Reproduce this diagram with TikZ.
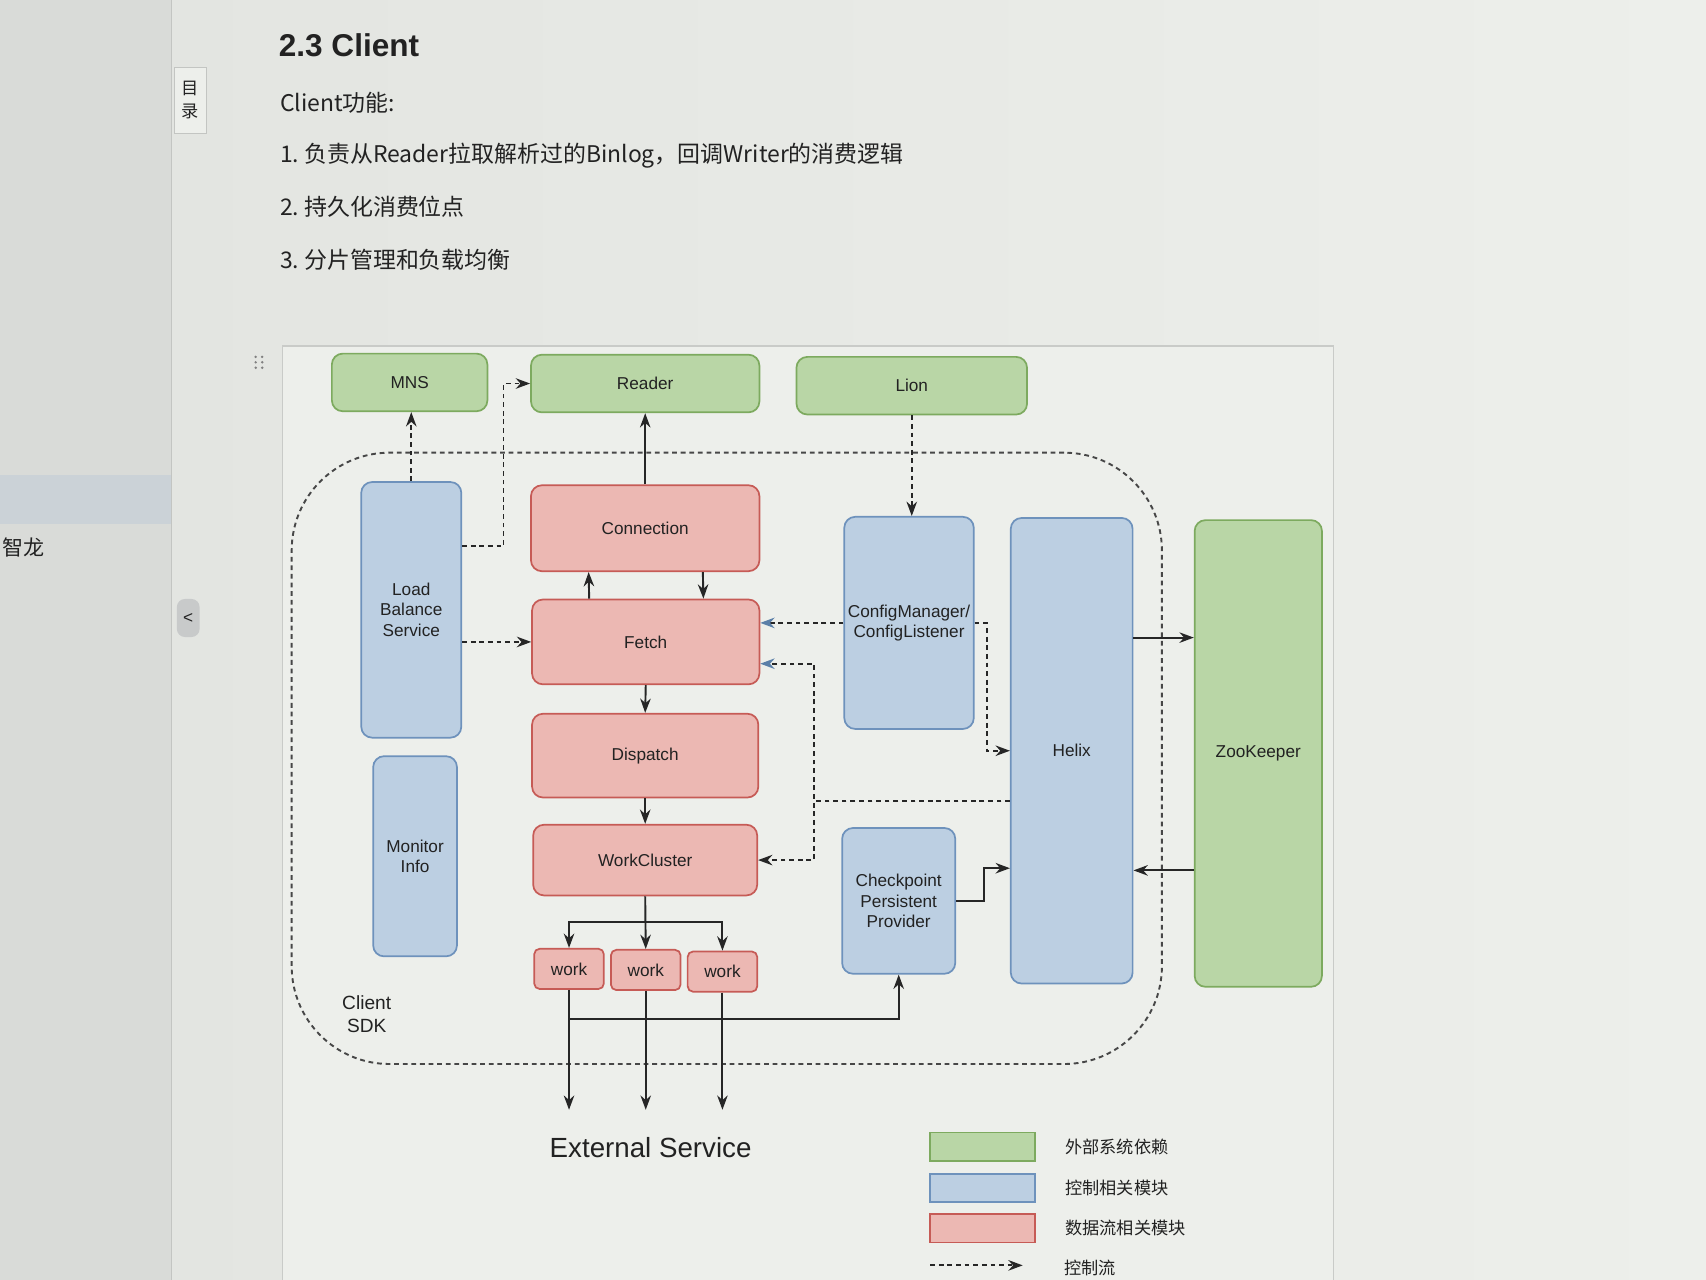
\documentclass[tikz,border=0pt]{standalone}
\usepackage{fontspec}
\setmainfont{Liberation Sans}
\newfontfamily\cjk{Noto Sans CJK SC}
\usetikzlibrary{arrows.meta, positioning, calc}

\definecolor{page}{HTML}{E2E4E0}
\definecolor{pagelight}{HTML}{EDEFEB}
\definecolor{sidebar}{HTML}{D9DBD8}
\definecolor{rowhl}{HTML}{CBD2D7}
\definecolor{sideline}{HTML}{C3C5C2}
\definecolor{tabgray}{HTML}{C8CACA}
\definecolor{framefill}{HTML}{EDEFEB}
\definecolor{framedraw}{HTML}{C9CBC8}
\definecolor{extfill}{HTML}{B9D6A6}
\definecolor{extdraw}{HTML}{7DAA5F}
\definecolor{ctlfill}{HTML}{BCCFE2}
\definecolor{ctldraw}{HTML}{6E92BC}
\definecolor{datfill}{HTML}{ECB8B3}
\definecolor{datdraw}{HTML}{C65B56}
\definecolor{wire}{HTML}{262626}
\definecolor{txt}{HTML}{222222}
\definecolor{ctlhead}{HTML}{5B7FA8}

\begin{document}
\begin{tikzpicture}[x=0.02cm, y=-0.02cm, >={Stealth[length=7.5pt, width=5.5pt]}, font=\fontsize{9}{10.8}\selectfont,
    box/.style={draw, rounded corners=0.2cm, align=center, text=txt, line width=0.9pt, inner sep=1pt},
    extbox/.style={box, fill=extfill, draw=extdraw},
    ctlbox/.style={box, fill=ctlfill, draw=ctldraw},
    databox/.style={box, fill=datfill, draw=datdraw},
    workbox/.style={databox, rounded corners=0.1cm, minimum width=1.28cm, minimum height=0.74cm},
    flow/.style={draw=wire, line width=1pt},
    ctrl/.style={flow, dash pattern=on 2.5pt off 2pt},
    bluetip/.style={-{Stealth[length=7.5pt, width=5.5pt, color=ctlhead]}},
    doc/.style={anchor=west, inner sep=0pt, text=txt, font=\cjk\fontsize{12}{14}\selectfont},
    legbox/.style={minimum width=1.92cm, minimum height=0.52cm, line width=0.9pt},
    legtext/.style={anchor=west, inner sep=0pt, text=txt, font=\cjk\fontsize{9}{11}\selectfont}]

    % page
    \useasboundingbox (0,0) rectangle (1568,1176);
    \clip (0,0) rectangle (1568,1176);
    \shade[left color=page, right color=pagelight] (0,0) rectangle (1568,1176);
    \fill[sidebar] (0,0) rectangle (158,1176);
    \fill[rowhl] (0,437) rectangle (158,482);
    \draw[sideline, line width=0.6pt] (158,0) -- (158,1176);
    \node[anchor=west, inner sep=0pt, text=txt, font=\cjk\fontsize{11}{13}\selectfont] (user) at (2,503) {智龙};
    \node[draw=sideline, fill=pagelight, text=txt, align=center, minimum width=0.58cm, minimum height=1.22cm,
          font=\cjk\fontsize{9}{12}\selectfont] (toc) at (175,92) {目\\录};
    \node[fill=tabgray, rounded corners=0.15cm, minimum width=0.36cm, minimum height=0.7cm, text=txt,
          font=\fontsize{9}{10}\selectfont] (fold) at (173,568) {<};
    \foreach \dx in {0,6}
        \foreach \dy in {0,5,10}
            \fill[gray] (235+\dx,328+\dy) circle (0.025cm);

    % text
    \node[anchor=west, inner sep=0pt, text=txt, font=\bfseries\fontsize{16.5}{20}\selectfont] (title) at (256,42) {2.3 Client};
    \node[doc] (intro) at (257,94) {Client功能:};
    \node[doc] (item1) at (257,143) {1.\ 负责从Reader拉取解析过的Binlog，回调Writer的消费逻辑};
    \node[doc] (item2) at (257,190) {2.\ 持久化消费位点};
    \node[doc] (item3) at (257,239) {3.\ 分片管理和负载均衡};

    % diagram
    \draw[fill=framefill, draw=framedraw, line width=0.6pt] (260,318) rectangle (1226,1200);
    \node[ctrl, draw=wire!85, rounded corners=1.8cm, minimum width=16cm, minimum height=11.24cm] (sdk) at (668,697) {};
    \node[align=center, text=txt, font=\fontsize{10}{12}\selectfont] (sdk-label) at (337,932) {Client\\SDK};

    \node[extbox, minimum width=2.86cm, minimum height=1.06cm] (mns) at (376.5,351.5) {MNS};
    \node[extbox, minimum width=4.2cm, minimum height=1.06cm] (reader) at (593,352.5) {Reader};
    \node[extbox, minimum width=4.24cm, minimum height=1.06cm] (lion) at (838,354.5) {Lion};

    \node[ctlbox, minimum width=1.84cm, minimum height=4.7cm] (lbs) at (378,560.5) {Load\\Balance\\Service};
    \node[ctlbox, minimum width=1.54cm, minimum height=3.68cm] (monitor) at (381.5,787) {Monitor\\Info};

    \node[databox, minimum width=4.2cm, minimum height=1.58cm] (conn) at (593,485.5) {Connection};
    \node[databox, minimum width=4.18cm, minimum height=1.56cm] (fetch) at (593.5,590) {Fetch};
    \node[databox, minimum width=4.16cm, minimum height=1.54cm] (dispatch) at (593,694.5) {Dispatch};
    \node[databox, minimum width=4.12cm, minimum height=1.3cm] (wc) at (593,790.5) {WorkCluster};
    \node[workbox] (work1) at (523,890.5) {work};
    \node[workbox] (work2) at (593.5,891.5) {work};
    \node[workbox] (work3) at (664,893) {work};

    \node[ctlbox, minimum width=2.38cm, minimum height=3.9cm] (cfg) at (835.5,572.5) {ConfigManager/\\ConfigListener};
    \node[ctlbox, minimum width=2.08cm, minimum height=2.68cm] (ckpt) at (826,828) {Checkpoint\\Persistent\\Provider};
    \node[ctlbox, minimum width=2.24cm, minimum height=8.56cm] (helix) at (985,690) {Helix};
    \node[extbox, minimum width=2.34cm, minimum height=8.58cm] (zk) at (1156.5,692.5) {ZooKeeper};

    \node[text=txt, font=\fontsize{14.5}{17}\selectfont] (ext) at (598,1055) {External Service};
    \coordinate (ext-top) at (593,1020);

    % control flow
    \draw[ctrl, ->] (lbs.north) -- (lbs.north |- mns.south);
    \draw[ctrl, ->] ([yshift=1.17cm]lbs.east) -- ++(38,0) |- (reader.west);
    \draw[ctrl, ->] (fetch.west -| lbs.east) -- (fetch.west);
    \draw[ctrl, ->] (lion.south) -- (lion.south |- cfg.north);
    \draw[ctrl, bluetip] (cfg.west) -- (cfg.west -| fetch.east);
    \draw[ctrl, ->] (cfg.east) -- ++(11,0) |- (helix.west);
    \draw[ctrl, bluetip] ([yshift=-0.92cm]helix.west) -- ++(-180,0) |- ([yshift=-0.4cm]fetch.east);
    \draw[ctrl, ->] ([yshift=-0.92cm]helix.west) -- ++(-180,0) |- (wc.east);

    % data flow
    \draw[flow, ->] (conn.north) -- (reader.south);
    \draw[flow, ->] ([xshift=-1.04cm]fetch.north) -- ([xshift=-1.04cm]conn.south);
    \draw[flow, ->] ([xshift=1.06cm]conn.south) -- ([xshift=1.06cm]fetch.north);
    \draw[flow, ->] (fetch.south) -- (dispatch.north);
    \draw[flow, ->] (dispatch.south) -- (wc.north);
    \coordinate[below=0.48cm of wc] (split);
    \draw[flow, ->] (wc.south) -- (work2.north);
    \draw[flow, ->] (split) -| (work1.north);
    \draw[flow, ->] (split) -| (work3.north);
    \draw[flow, ->] (work1.south) -- (work1.south |- ext-top);
    \draw[flow, ->] (work2.south) -- (work2.south |- ext-top);
    \draw[flow, ->] (work3.south) -- (work3.south |- ext-top);
    \draw[flow, ->] ([yshift=-0.54cm]work1.south) -| (ckpt.south);
    \draw[flow, ->] (ckpt.east) -- ++(26,0) |- ([yshift=-2.16cm]helix.west);
    \path ([yshift=2.08cm]helix.east) coordinate (helix-out);
    \draw[flow, ->] (helix-out) -- (helix-out -| zk.west);
    \path ([yshift=-2.15cm]zk.west) coordinate (zk-out);
    \draw[flow, ->] (zk-out) -- (zk-out -| helix.east);

    % legend
    \node[legbox, fill=extfill, draw=extdraw] (leg-ext) at (903,1054) {};
    \node[legtext, right=0.54cm of leg-ext] (leg-ext-text) {外部系统依赖};
    \node[legbox, fill=ctlfill, draw=ctldraw] (leg-ctl) at (903,1092) {};
    \node[legtext, right=0.54cm of leg-ctl] (leg-ctl-text) {控制相关模块};
    \node[legbox, fill=datfill, draw=datdraw] (leg-dat) at (903,1129) {};
    \node[legtext, right=0.54cm of leg-dat] (leg-dat-text) {数据流相关模块};
    \node[legtext] (leg-flow-text) at (978,1165) {控制流};
    \draw[ctrl, ->] ([xshift=-2.46cm, yshift=0.04cm]leg-flow-text.west) -- ([xshift=-0.76cm, yshift=0.04cm]leg-flow-text.west);

\end{tikzpicture}
\end{document}
